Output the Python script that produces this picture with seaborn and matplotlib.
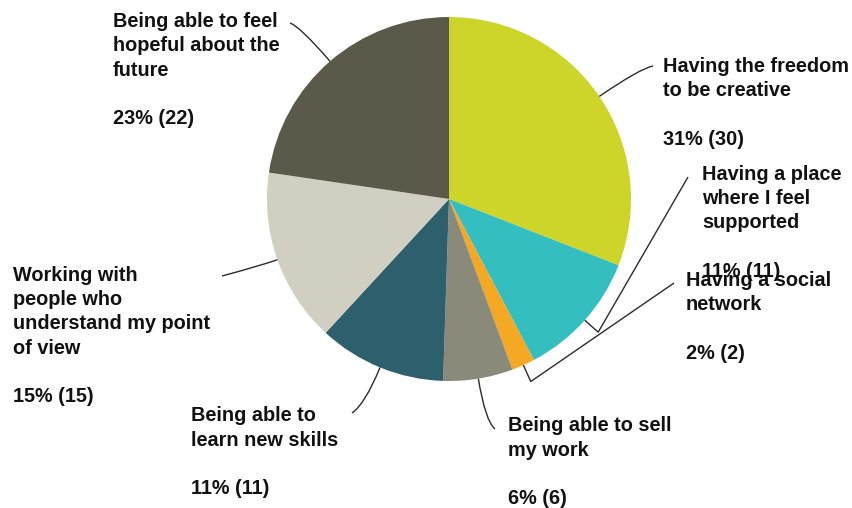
import matplotlib
matplotlib.use("Agg")
import matplotlib.pyplot as plt
from matplotlib.path import Path
from matplotlib.patches import PathPatch
import numpy as np
import seaborn as sns

# Survey answers, in clockwise order from 12 o'clock
categories = [
    "Having the freedom\nto be creative",
    "Having a place\nwhere I feel\nsupported",
    "Having a social\nnetwork",
    "Being able to sell\nmy work",
    "Being able to\nlearn new skills",
    "Working with\npeople who\nunderstand my point\nof view",
    "Being able to feel\nhopeful about the\nfuture",
]
counts = [30, 11, 2, 6, 11, 15, 22]
colors = ["#cdd52b", "#35bec0", "#f5a822", "#8a8a7a", "#2e5f6d", "#d0cfc2", "#5b5a4a"]

# Layout in pixel units (y measured from the top); label y is the baseline
# of the last (percentage) line
W, H = 852, 508
CX, CY, R = 449, 199, 182
label_pos = [(663, 145), (702, 277), (686, 359), (508, 504), (191, 494), (13, 402), (113, 124)]
elbow_r = [232, 200, 200, 225, 222, 200, 228]
line_end = [(653, 66), (688, 177), (674, 283), (495, 429), (352, 413), (222, 276), (290, 23)]
curved = [True, False, False, True, True, True, True]

sns.set_theme(style="white")
plt.rcParams["font.family"] = ["Liberation Sans", "DejaVu Sans"]

fig = plt.figure(figsize=(W / 100, H / 100), dpi=100)
ax = fig.add_axes([0, 0, 1, 1])


def py(y):
    return H - y


ax.pie(counts, colors=colors, startangle=90, counterclock=False,
       center=(CX, py(CY)), radius=R, frame=False,
       wedgeprops=dict(linewidth=0))

total = sum(counts)
cum = np.cumsum([0] + counts[:-1])
for i, (lab, v) in enumerate(zip(categories, counts)):
    ang = np.deg2rad(90 - 360 * (cum[i] + v / 2) / total)
    start = (CX + R * np.cos(ang), py(CY) + R * np.sin(ang))
    elbow = (CX + elbow_r[i] * np.cos(ang), py(CY) + elbow_r[i] * np.sin(ang))
    end = (line_end[i][0], py(line_end[i][1]))
    if curved[i]:
        path = Path([start, elbow, end], [Path.MOVETO, Path.CURVE3, Path.CURVE3])
    else:
        path = Path([start, elbow, end], [Path.MOVETO, Path.LINETO, Path.LINETO])
    ax.add_patch(PathPatch(path, fill=False, edgecolor="#2b2b2b", linewidth=1.0))

    pct = round(100 * v / total)
    x, y = label_pos[i]
    ax.text(x, py(y), f"{lab}\n\n{pct}% ({v})", ha="left", va="baseline",
            fontsize=14.3, fontweight="bold", color="#111111", linespacing=1.35)

ax.set_xlim(0, W)
ax.set_ylim(0, H)
ax.set_aspect("auto")
ax.axis("off")
fig.savefig("out.png", dpi=100, facecolor="white")
